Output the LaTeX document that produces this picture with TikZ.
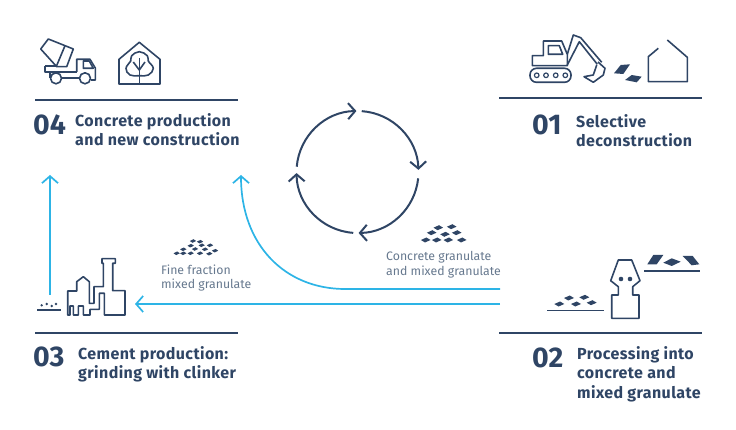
\documentclass[tikz,border=0pt]{standalone}
\usepackage{fontspec}
\setmainfont{Fira Sans}
\usepackage{tikz}
\usetikzlibrary{arrows.meta, calc}

\definecolor{navy}{HTML}{2F4565}
\definecolor{flow}{HTML}{2DB4E6}
\definecolor{note}{HTML}{66788E}

\begin{document}
\begin{tikzpicture}[
        x=1pt, y=1pt, yscale=-1,
        number/.style={anchor=west, inner sep=0pt, text=navy, font={\fontsize{28.5}{28.5}\selectfont\bfseries}},
        title/.style={anchor=west, inner sep=0pt, text=navy, align=left, font={\fontsize{16}{19.3}\selectfont\bfseries\addfontfeatures{LetterSpace=2.5}}},
        remark/.style={anchor=west, inner sep=0pt, text=note, align=left, font={\fontsize{12.3}{14.8}\selectfont}},
        rule/.style={navy, line width=1.7pt},
        icon/.style={navy, line width=1.6pt, line join=round},
        ring/.style={navy, line width=2pt, -{Straight Barb[length=7pt, width=16pt, line width=2pt]}},
        arrow/.style={flow, line width=1.7pt, -{Straight Barb[length=7pt, width=16pt, line width=1.7pt]}},
        grain/.pic={\fill[navy] (-1,0) -- (-0.15,-0.5) -- (1,0) -- (0.15,0.5) -- cycle;}
    ]
        \useasboundingbox (0,0) rectangle (736,430);

        % Rules
        \draw [rule] (35,100) -- (238,100);
        \draw [rule] (499,98) -- (702,98);
        \draw [rule] (35,333) -- (238,333);
        \draw [rule] (499,333) -- (702,333);

        % Step numbers and titles
        \node (num04) [number] at (33,125) {04};
        \node (txt04) [title] at (75,129.5) {Concrete production\\and new construction};
        \node (num01) [number] at (532,125) {01};
        \node (txt01) [title] at (576,130.5) {Selective\\deconstruction};
        \node (num03) [number] at (33,357) {03};
        \node (txt03) [title] at (78,364) {Cement production:\\grinding with clinker};
        \node (num02) [number] at (532,358) {02};
        \node (txt02) [title] at (577,374) {Processing into\\concrete and\\mixed granulate};

        % Small notes
        \node (fine) [remark] at (161,278) {Fine fraction\\mixed granulate};
        \node (coarse) [remark] at (386,264.5) {Concrete granulate\\and mixed granulate};

        % Cycle in the centre
        \coordinate (hub) at (357.5,172);
        \draw [ring] ($(hub)+(-86:61)$) arc[start angle=-86, end angle=-2, radius=61];
        \draw [ring] ($(hub)+(6:61)$) arc[start angle=6, end angle=89, radius=61];
        \draw [ring] ($(hub)+(94:61)$) arc[start angle=94, end angle=179, radius=61];
        \draw [ring] ($(hub)+(185:61)$) arc[start angle=185, end angle=269, radius=61];

        % Flows
        \coordinate (up_from) at (50,295);
        \coordinate (up_to) at (50,175);
        \coordinate (fine_from) at (500,304);
        \coordinate (fine_to) at (135,304);
        \coordinate (coarse_from) at (500,289);
        \coordinate (coarse_bend) at (345,289);
        \coordinate (coarse_to) at (241,175);
        \draw [arrow] (up_from) -- (up_to);
        \draw [arrow] (fine_from) -- (fine_to);
        \draw [arrow] (coarse_from) -- (coarse_bend) .. controls (285,289) and (241,245) .. (coarse_to);

        % Mixer truck
        \draw [icon] (48.3,39) -- (73.3,49) -- (66.7,66.7) -- (56.7,66.7) -- (40.7,49) -- cycle;
        \draw [icon] (65,45.7) -- (56.5,66);
        \draw [icon] (45,66) -- (45,72) -- (76.7,72);
        \draw [icon] (45,66) -- (56.7,66);
        \draw [icon] (50,72) -- (50,78.3);
        \draw [icon] (76.7,72) -- (76.7,59.3) -- (90,59.3) -- (95.3,68) -- (95.3,80) -- (91,80);
        \draw [icon] (83.3,61) -- (89.3,61) -- (93.3,68.3) -- (83.3,68.3) -- cycle;
        \draw [icon] (62,78.3) -- (79,78.3);
        \draw [icon] (56,78.3) circle (5.5);
        \draw [icon] (85,78.3) circle (5.5);

        % House with tree
        \draw [icon] (139.3,42.3) -- (160,59.3) -- (160,84) -- (119,84) -- (119,59.3) -- cycle;
        \draw [icon] plot [smooth cycle, tension=0.7] coordinates {(139.3,51.7) (147.3,55.7) (148.3,61) (153.3,68.3) (148.3,75) (139.3,75.7) (130,75) (126,68.3) (130.7,61) (131.7,55.7)};
        \draw [icon] (139.3,58) -- (139.3,84);
        \draw [icon] (133.3,62) -- (139.3,70) -- (145,62);

        % Excavator
        \draw [icon, rounded corners=6.5pt] (530,68.3) rectangle (571,82.3);
        \foreach \wx in {536.7, 546, 555.7, 565.3}
            \draw [navy, line width=1.2pt] (\wx,75.3) circle (2.3);
        \draw [icon] (532.3,65.7) -- (532.3,55.7) -- (543.3,55.7) -- (543.3,41) -- (561.7,41) -- (567.3,54.3) -- (567.3,65.7) -- cycle;
        \draw [icon] (548.3,45.7) -- (559.3,45.7) -- (562.7,54.3) -- (548.3,54.3) -- cycle;
        \draw [icon] (567.3,54.3) -- (573.3,35) -- (580.7,37.7) -- (601.7,62.3);
        \draw [icon] (567.3,65) -- (579.3,41.7) -- (597.3,64.3);
        \draw [icon] (598,62) -- (605,68.3) -- (603.3,75) -- (593.3,82.3) -- (584,76.7) -- (593.3,75) -- (596.7,65);
        \fill [navy] (614,73.3) -- (620.7,65) -- (630,64.3) -- (623.3,74) -- cycle;
        \fill [navy] (625,80) -- (631.7,75) -- (641.7,76.7) -- (636.7,82.3) -- cycle;

        % Open house
        \draw [icon] (658.3,48.3) -- (648.3,56.7) -- (648.3,81.7) -- (687.3,81.7) -- (687.3,57.3) -- (667.3,40);

        % Crusher
        \draw [icon] (618.3,260) -- (631.7,260) -- (640,280.7) -- (632.7,286.7) -- (632.7,295) -- (639,295) -- (639,318.3) -- (611.7,318.3) -- (611.7,295) -- (618.3,295) -- (618.3,286.7) -- (610.7,280.7) -- cycle;
        \fill [navy] (621,279) circle (2.3) (630,279) circle (2.3);
        \draw [icon] (644,271) -- (700,271);
        \fill [navy] (647.3,264.3) -- (653.3,255) -- (663.3,255) -- (656.7,264.3) -- cycle;
        \fill [navy] (663.3,262.7) -- (671.7,258.3) -- (680.7,261.7) -- (671.7,266) -- cycle;
        \fill [navy] (682.7,256) -- (692.7,256) -- (699.3,264.3) -- (691.7,265.3) -- cycle;
        \draw [icon] (547.3,310.3) -- (604,310.3);
        \foreach \gx/\gy in {559.3/304, 569/298, 576/304, 584.3/297.3, 591.7/302.7}
            \pic [xscale=5, yscale=5] at (\gx,\gy) {grain};

        % Factory
        \draw [icon] (67.7,315) -- (67.7,291) -- (76.7,291) -- (76.7,281.7) -- (83.3,276.7) -- (89.3,281.7) -- (89.3,303.3) -- (94,303.3) -- (94,286.7) -- (103.3,286.7) -- (103.3,263.3) -- (102,263.3) -- (102,258.7) -- (115.3,258.7) -- (115.3,263.3) -- (112.7,263.3) -- (112.7,290.7) -- (125,290.7) -- (125,315) -- (104.3,315) -- (104.3,293.3) -- (99.3,293.3) -- (99.3,309.3) -- (90,309.3) -- (90,315) -- (83.3,315) -- (83.3,306) -- (78.3,306) -- (78.3,315) -- (73.3,315) -- (73.3,306) -- (70,306) -- (70,315) -- cycle;
        \draw [icon] (37.3,310) -- (60.7,310);
        \foreach \dx/\dy in {41.7/305.3, 46.7/304, 51.7/306, 56/304}
            \fill [navy] (\dx,\dy) circle (1.3);

        % Granulate heaps
        \foreach \gx/\gy in {193/241, 200/241.7, 190.7/245.7, 201.7/245.3, 210/245.3, 183.3/249.3, 195/249, 205/249.3, 176.7/253.3, 183.3/253.3, 190.7/253.3, 200/253.3, 209.3/253.7, 215/250.7}
            \pic [xscale=3.2, yscale=3.6] at (\gx,\gy) {grain};
        \foreach \gx/\gy in {438.3/227.7, 451.7/226.7, 431.7/232.7, 445/234.3, 456.7/232.7, 425.7/240, 436.7/240, 448.3/240, 461.7/240}
            \pic [xscale=4.8, yscale=5] at (\gx,\gy) {grain};
    \end{tikzpicture}
\end{document}
